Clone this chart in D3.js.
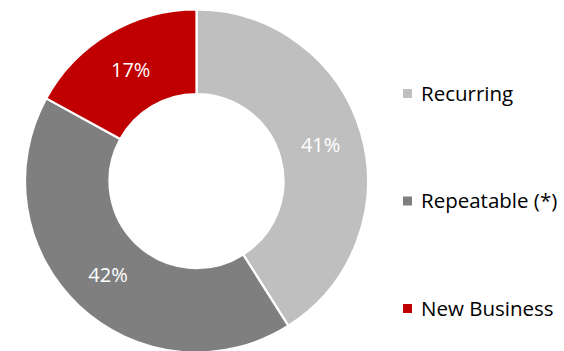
<!DOCTYPE html>
<html>
<head>
<meta charset="utf-8">
<script src="https://cdn.jsdelivr.net/npm/d3@7"></script>
<style>
  html, body { margin: 0; padding: 0; background: #fff; }
  svg { display: block; }
  text { font-family: "Open Sans", "Liberation Sans", sans-serif; }
</style>
</head>
<body>
<svg id="chart" width="564" height="351"></svg>
<script>
// Revenue mix by type
const categories = ["Recurring", "Repeatable (*)", "New Business"];
const shares = [41, 42, 17];
const colors = ["#BFBFBF", "#7F7F7F", "#C00000"];

const width = 564, height = 351;
const cx = 196.5, cy = 181;
const outerR = 171.5, innerR = 87;

const svg = d3.select("#chart");

const pie = d3.pie().sort(null).value(d => d.value);
const arcs = pie(categories.map((c, i) => ({ name: c, value: shares[i], color: colors[i] })));

const arc = d3.arc().innerRadius(innerR).outerRadius(outerR);

const g = svg.append("g").attr("transform", `translate(${cx},${cy})`);

g.selectAll("path")
  .data(arcs)
  .join("path")
  .attr("d", arc)
  .attr("fill", d => d.data.color)
  .attr("stroke", "#fff")
  .attr("stroke-width", 2.2)
  .attr("stroke-linejoin", "round");

g.selectAll("text.pct")
  .data(arcs)
  .join("text")
  .attr("class", "pct")
  .attr("transform", d => `translate(${arc.centroid(d)})`)
  .attr("text-anchor", "middle")
  .attr("dy", "0.35em")
  .attr("fill", "#fff")
  .attr("font-size", 20)
  .text(d => d.data.value + "%");

// Legend
const legendY = d3.scalePoint().domain(categories).range([93.5, 308.5]);
const legend = svg.append("g");
const item = legend.selectAll("g")
  .data(arcs)
  .join("g")
  .attr("transform", d => `translate(403,${legendY(d.data.name)})`);

item.append("rect")
  .attr("x", 0).attr("y", -4.5)
  .attr("width", 9).attr("height", 9)
  .attr("fill", d => d.data.color);

item.append("text")
  .attr("x", 18)
  .attr("dy", "0.35em")
  .attr("fill", "#000")
  .attr("font-size", 20.5)
  .text(d => d.data.name);
</script>
</body>
</html>
